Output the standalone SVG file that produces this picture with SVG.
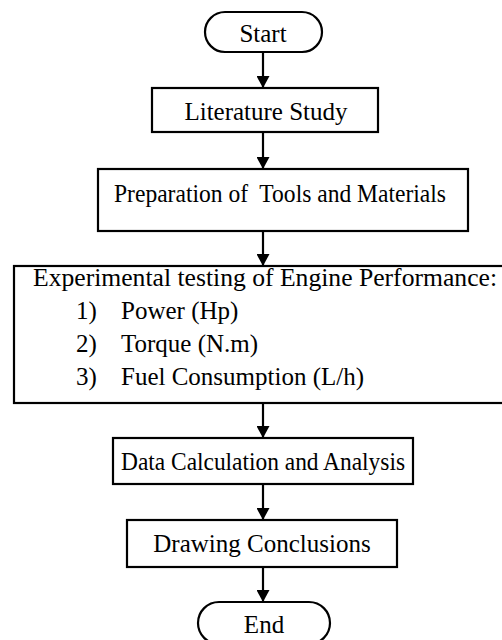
<svg xmlns="http://www.w3.org/2000/svg" width="502" height="640" viewBox="0 0 502 640">
  <style>
    .box { fill: #ffffff; stroke: #000000; stroke-width: 2.2; }
    .term { fill: #ffffff; stroke: #000000; stroke-width: 2.2; }
    .lbl { font-family: "Liberation Serif", "Times New Roman", serif; font-size: 25px; fill: #000000; }
    .mid { text-anchor: middle; }
    .flow { stroke: #000000; stroke-width: 2.2; fill: none; marker-end: url(#head); }
  </style>
  <defs>
    <marker id="head" viewBox="0 0 12 13" refX="12" refY="6.5" markerWidth="12" markerHeight="13" markerUnits="userSpaceOnUse" orient="auto">
      <path d="M0,0 L12,6.5 L0,13 Z" fill="#000000"/>
    </marker>
  </defs>
  <rect width="502" height="640" fill="#ffffff"/>

  <g id="connectors">
    <line class="flow" x1="263" y1="53" x2="263" y2="88"/>
    <line class="flow" x1="263" y1="132" x2="263" y2="169"/>
    <line class="flow" x1="263" y1="231" x2="263" y2="266"/>
    <line class="flow" x1="263" y1="403" x2="263" y2="438"/>
    <line class="flow" x1="263" y1="484" x2="263" y2="520"/>
    <line class="flow" x1="263" y1="567" x2="263" y2="602"/>
  </g>

  <g id="start">
    <rect class="term" x="205" y="12" width="117" height="40" rx="20" ry="20"/>
    <text class="lbl mid" x="263" y="42">Start</text>
  </g>

  <g id="literature-study">
    <rect class="box" x="152" y="88" width="226" height="44"/>
    <text class="lbl mid" x="266" y="120">Literature Study</text>
  </g>

  <g id="preparation">
    <rect class="box" x="98" y="169" width="370" height="62"/>
    <text class="lbl" x="114" y="202" textLength="332" lengthAdjust="spacingAndGlyphs" xml:space="preserve">Preparation of  Tools and Materials</text>
  </g>

  <g id="experimental-testing">
    <rect class="box" x="14" y="266" width="492" height="137"/>
    <text class="lbl" x="33" y="286" textLength="464" lengthAdjust="spacingAndGlyphs">Experimental testing of Engine Performance:</text>
    <text class="lbl" x="76" y="319">1)</text>
    <text class="lbl" x="121" y="319">Power (Hp)</text>
    <text class="lbl" x="76" y="352">2)</text>
    <text class="lbl" x="121" y="352">Torque (N.m)</text>
    <text class="lbl" x="76" y="385">3)</text>
    <text class="lbl" x="121" y="385">Fuel Consumption (L/h)</text>
  </g>

  <g id="data-analysis">
    <rect class="box" x="113" y="438" width="300" height="46"/>
    <text class="lbl" x="121" y="470" textLength="284" lengthAdjust="spacingAndGlyphs">Data Calculation and Analysis</text>
  </g>

  <g id="conclusions">
    <rect class="box" x="127" y="520" width="270" height="47"/>
    <text class="lbl mid" x="262" y="552">Drawing Conclusions</text>
  </g>

  <g id="end">
    <rect class="term" x="198" y="602" width="132" height="42" rx="21" ry="21"/>
    <text class="lbl mid" x="264" y="633">End</text>
  </g>
</svg>
